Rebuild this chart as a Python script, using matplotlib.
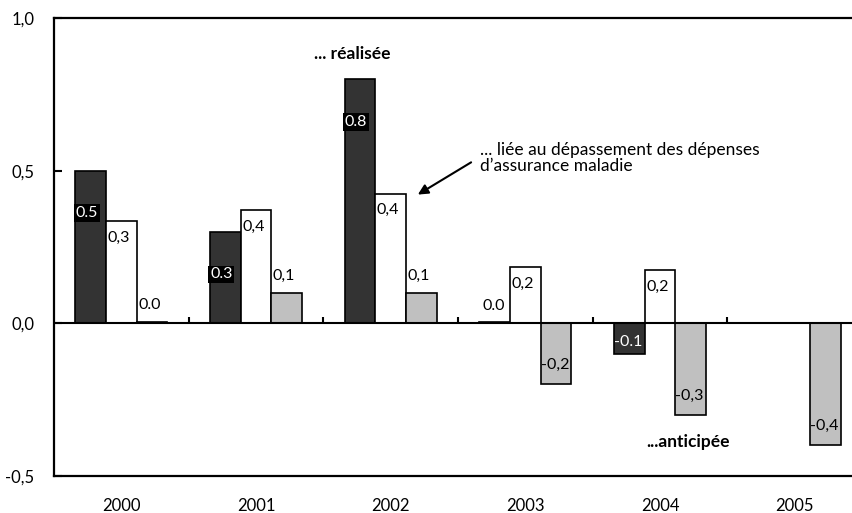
import numpy as np
import matplotlib.pyplot as plt

# ===============================
# DATA
# ===============================
years = ["2000", "2001", "2002", "2003", "2004", "2005"]
realisee = [0.5, 0.3, 0.8, 0.005, -0.1, np.nan]
depassement = [0.335, 0.37, 0.425, 0.185, 0.175, np.nan]
anticipee = [0.005, 0.1, 0.1, -0.2, -0.3, -0.4]

lbl_realisee = ["0.5", "0.3", "0.8", "0.0", "-0.1", ""]
lbl_depassement = ["0,3", "0,4", "0,4", "0,2", "0,2", ""]
lbl_anticipee = ["0.0", "0,1", "0,1", "-0,2", "-0,3", "-0,4"]

yticks = [-0.5, 0.0, 0.5, 1.0]
ytick_labels = ["-0,5", "0,0", "0,5", "1,0"]

# ===============================
# FIGURE
# ===============================
plt.rcParams["font.family"] = ["Lato", "DejaVu Sans"]
W, H = 853, 513
fig = plt.figure(figsize=(W / 100, H / 100), dpi=100)
ax = fig.add_axes([54 / W, 37 / H, 808 / W, 458 / H])

x = np.arange(len(years))
bw = 0.227
ax.bar(x - bw, realisee, bw, color="#333333", edgecolor="black", linewidth=1.2)
ax.bar(x, depassement, bw, color="white", edgecolor="black", linewidth=1.2)
ax.bar(x + bw, anticipee, bw, color="#c0c0c0", edgecolor="black", linewidth=1.2)

ax.set_xlim(-0.5, 5.5)
ax.set_ylim(-0.5, 1.0)

# zero line and category separators
ax.axhline(0, color="black", linewidth=1.5, zorder=3)
ax.vlines(x[:-1] + 0.5, 0, 0.022, color="black", linewidth=1.5, zorder=3)

# ---- data labels ----
fs = 11.5
for i in range(len(years)):
    v = realisee[i]
    xl = x[i] - 1.5 * bw
    if not np.isnan(v):
        if abs(v) < 0.02:
            ax.annotate(lbl_realisee[i], (xl, v), xytext=(2, 6), textcoords="offset points",
                        ha="left", va="bottom", fontsize=fs)
        elif v > 0:
            ax.text(xl, v - 0.14, lbl_realisee[i], ha="left", va="center", fontsize=fs,
                    color="white",
                    bbox=dict(boxstyle="square,pad=0.12", facecolor="black", edgecolor="none"))
        else:
            ax.text(xl, v * 0.6, lbl_realisee[i], ha="left", va="center", fontsize=fs,
                    color="white")

    v = depassement[i]
    xl = x[i] - 0.5 * bw
    if not np.isnan(v):
        ax.annotate(lbl_depassement[i], (xl, v), xytext=(1, -7), textcoords="offset points",
                    ha="left", va="top", fontsize=fs)

    v = anticipee[i]
    xl = x[i] + 0.5 * bw
    if v >= 0:
        ax.annotate(lbl_anticipee[i], (xl, v), xytext=(1, 7), textcoords="offset points",
                    ha="left", va="bottom", fontsize=fs)
    else:
        ax.annotate(lbl_anticipee[i], (xl, v), xytext=(0, 9), textcoords="offset points",
                    ha="left", va="bottom", fontsize=fs)

# ---- annotations ----
ax.text(1.43, 0.883, "... réalisée", fontsize=12.5, fontweight="bold", va="center", ha="left")
ax.text(3.90, -0.388, "...anticipée", fontsize=12.5, fontweight="bold", va="center", ha="left")
ax.text(2.66, 0.542, "... liée au dépassement des dépenses\nd\u2019assurance maladie",
        fontsize=12.5, va="center", ha="left", linespacing=0.95)
ax.annotate("", xy=(2.184, 0.417), xytext=(2.615, 0.532),
            arrowprops=dict(arrowstyle="-|>", color="black", lw=1.5, mutation_scale=15))

# ---- axes styling ----
ax.set_xticks(x)
ax.set_xticklabels(years, fontsize=12)
ax.tick_params(axis="x", length=0, pad=16)
ax.set_yticks(yticks)
ax.set_yticklabels(ytick_labels, fontsize=12)
ax.tick_params(axis="y", direction="in", length=6, width=1.5, pad=14)

for side in ["left", "top", "bottom"]:
    ax.spines[side].set_linewidth(1.6)
ax.spines["right"].set_visible(False)

fig.savefig("out.png", dpi=100)
